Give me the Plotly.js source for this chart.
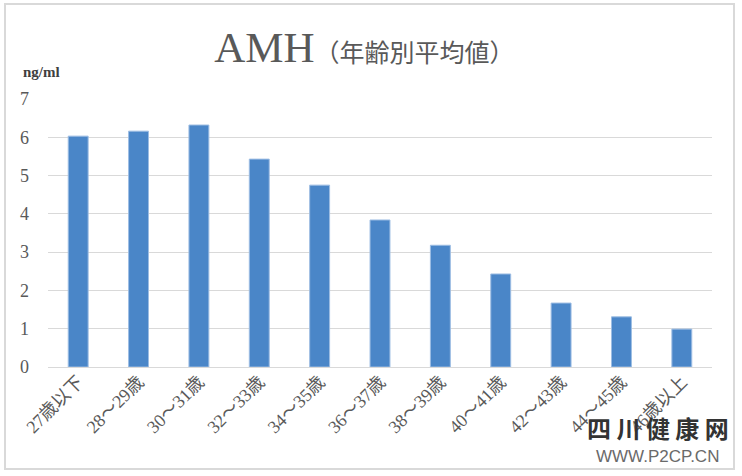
<!DOCTYPE html>
<html>
<head>
<meta charset="utf-8">
<script src="https://cdn.plot.ly/plotly-3.0.1.min.js"></script>
<style>
html,body{margin:0;padding:0;background:#fff;}
#frame{position:absolute;left:4px;top:3px;width:727px;height:463px;border:2px solid #d9d9d9;}
#chart{position:absolute;left:0;top:0;width:742px;height:476px;}
</style>
</head>
<body>
<div id="frame"></div>
<div id="chart"></div>
<script>
const categories = ["27歳以下","28～29歳","30～31歳","32～33歳","34～35歳","36～37歳","38～39歳","40～41歳","42～43歳","44～45歳","46歳以上"];
const amhValues = [6.03, 6.16, 6.32, 5.43, 4.75, 3.84, 3.18, 2.43, 1.67, 1.31, 0.99];
const yTicks = [0,1,2,3,4,5,6,7];

const serif = "'Liberation Serif','DejaVu Serif','Noto Sans CJK JP',serif";

const trace = {
  type: 'bar',
  x: categories,
  y: amhValues,
  marker: {color: '#4a86c8', line: {color: '#9dbde3', width: 1}},
  hoverinfo: 'x+y'
};

const layout = {
  width: 742, height: 476,
  paper_bgcolor: 'rgba(0,0,0,0)',
  plot_bgcolor: 'rgba(0,0,0,0)',
  margin: {l: 48, r: 30, t: 99, b: 109},
  bargap: 0.67,
  showlegend: false,
  title: {
    text: "AMH<span style=\"font-size:25px;font-family:'Noto Sans CJK JP',sans-serif;\">（年齢別平均値）</span>",
    font: {family: serif, size: 43, color: '#595959'},
    x: 0.491, xanchor: 'center',
    y: 0.902, yanchor: 'middle'
  },
  xaxis: {
    type: 'category',
    tickangle: -45,
    tickfont: {family: serif, size: 18, color: '#595959'},
    showgrid: false,
    showline: false,
    ticks: '',
    automargin: false
  },
  yaxis: {
    range: [0, 7],
    tickvals: yTicks,
    ticktext: yTicks.map(String),
    tickfont: {family: serif, size: 18, color: '#595959'},
    showgrid: true,
    gridcolor: '#d9d9d9',
    gridwidth: 1,
    zeroline: true,
    zerolinecolor: '#d9d9d9',
    zerolinewidth: 1,
    ticks: '',
    ticklabelstandoff: 18,
    automargin: false
  },
  annotations: [
    {text: '<b>ng/ml</b>', xref: 'paper', yref: 'paper', x: -0.01, y: 1.1,
     xanchor: 'center', yanchor: 'middle', showarrow: false,
     font: {family: serif, size: 15, color: '#404040'}},
    {text: '<b>四 川 健 康 网</b>', xref: 'paper', yref: 'paper', x: 0.918, y: -0.225,
     xanchor: 'center', yanchor: 'middle', showarrow: false,
     font: {family: "'Noto Sans CJK SC',sans-serif", size: 24, color: '#333333'}},
    {text: 'WWW.P2CP.CN', xref: 'paper', yref: 'paper', x: 0.918, y: -0.335,
     xanchor: 'center', yanchor: 'middle', showarrow: false,
     font: {family: "'Liberation Sans',sans-serif", size: 17, color: '#6a6a6a'}}
  ]
};

Plotly.newPlot('chart', [trace], layout, {displayModeBar: false, staticPlot: true});
</script>
</body>
</html>
